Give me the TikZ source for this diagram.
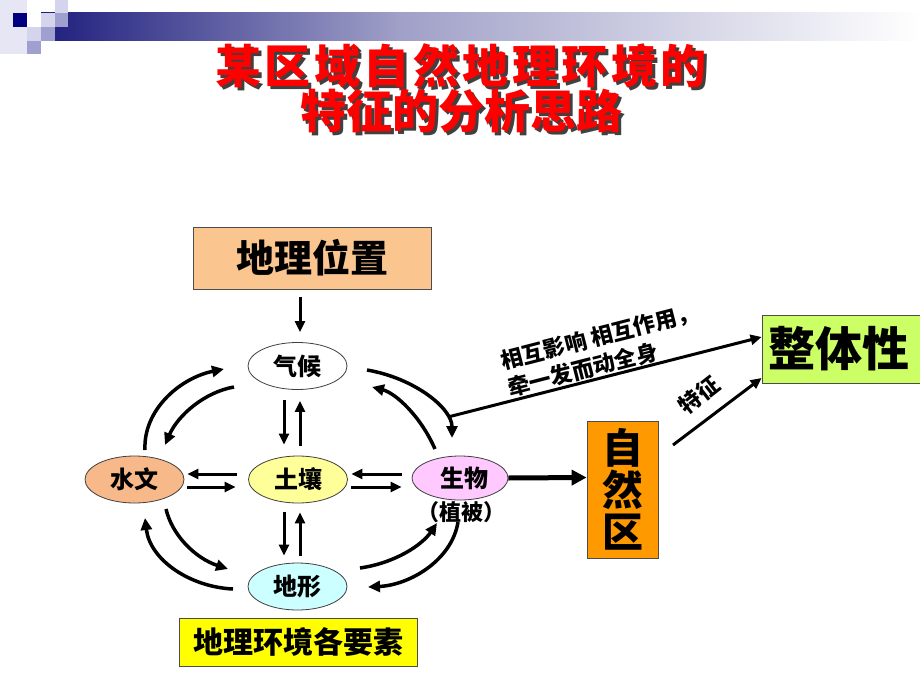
\documentclass[tikz,border=0pt]{standalone}
\usepackage{fontspec}
\setmainfont{Noto Sans CJK SC}
\usetikzlibrary{shapes.geometric,arrows.meta}
\definecolor{navyA}{HTML}{1E1E7E}
\definecolor{navyB}{HTML}{000080}
\definecolor{midbar}{HTML}{A0A0C8}
\definecolor{sqlight}{HTML}{D4D4EC}
\definecolor{sqmid}{HTML}{A0A0D0}
\definecolor{sqpale}{HTML}{E6E6F4}
\definecolor{peach}{HTML}{FAC58F}
\definecolor{waterC}{HTML}{F7B98A}
\definecolor{soilC}{HTML}{FFFF99}
\definecolor{bioC}{HTML}{FFC8FF}
\definecolor{terrC}{HTML}{CCFFFF}
\definecolor{zrqC}{HTML}{FF9900}
\definecolor{limeC}{HTML}{CCFF66}
\definecolor{yelC}{HTML}{FFFF00}
\definecolor{shadowC}{HTML}{404040}
\begin{document}
\begin{tikzpicture}[x=1pt,y=-1pt,
  ell/.style={ellipse, draw=black!75, line width=0.8pt, minimum width=99pt, minimum height=47pt, inner sep=0pt, font=\fontsize{24}{26}\selectfont\bfseries},
  boxn/.style={draw=black!70, line width=0.8pt, inner sep=0pt, font=\bfseries},
  arr/.style={line width=3pt, -{Triangle[length=11pt,width=10pt]}},
  carr/.style={line width=3.5pt, -{Triangle[length=12pt,width=11pt]}},
  lab/.style={font=\fontsize{22}{28}\selectfont\bfseries, inner sep=0pt},
  ttl/.style={font=\fontsize{46}{48}\selectfont\bfseries, inner sep=0pt}
]
\useasboundingbox (0,0) rectangle (920,690);
\fill[white] (0,0) rectangle (920,690);

% header decoration
\fill[sqpale] (0,0) rectangle (27,54);
\shade[left color=navyA, right color=midbar] (41,13) rectangle (400,41);
\shade[left color=midbar, right color=white] (399.5,13) rectangle (920,41);
\fill[navyB] (13,13) rectangle (27,27);
\fill[sqlight] (27,27) rectangle (41,41);
\fill[sqmid] (27,41) rectangle (41,54);
\fill[sqlight] (41,13) rectangle (55,27);
\fill[sqmid] (41,27) rectangle (55,41);
\fill[sqlight] (55,0) rectangle (68,13);
\fill[sqmid] (55,13) rectangle (68,27);

% title (red text with dark drop shadow)
\node[ttl, text=shadowC] (t1s) at (464,69) {\addfontfeatures{LetterSpace=7.5}某区域自然地理环境的};
\node[ttl, text=red] (t1) at (461,66) {\addfontfeatures{LetterSpace=7.5}某区域自然地理环境的};
\node[ttl, text=shadowC] (t2s) at (464,114) {特征的分析思路};
\node[ttl, text=red] (t2) at (461,111) {特征的分析思路};

% boxes
\node[boxn, fill=peach, minimum width=238pt, minimum height=62pt, font=\fontsize{38}{40}\selectfont\bfseries] (dlwz) at (312,258) {地理位置};
\node[boxn, fill=yelC, minimum width=238pt, minimum height=48pt, font=\fontsize{30}{32}\selectfont\bfseries] (ys) at (298,642) {地理环境各要素};
\node[boxn, fill=zrqC, minimum width=71pt, minimum height=137pt, align=center, font=\fontsize{41}{42}\selectfont\bfseries] (zrq) at (622.5,489.5) {自\\然\\区};
\node[boxn, fill=limeC, minimum width=162pt, minimum height=68pt, font=\fontsize{47}{49}\selectfont\bfseries] (zt) at (843,349) {\hspace*{-4pt}整体性\hspace*{4pt}};

% ellipses
\node[ell, fill=white] (qh) at (297.5,366) {气候};
\node[ell, fill=soilC] (tr) at (298,479.5) {土壤};
\node[ell, fill=waterC] (sw) at (134.5,479.5) {水文};
\node[ell, fill=bioC, minimum width=96pt, minimum height=44pt] (sb) at (460,478) {\hspace*{8pt}生物};
\node[font=\fontsize{22}{24}\selectfont\bfseries, inner sep=0pt] (zb) at (461,512) {（植被）};
\node[ell, fill=terrC] (dx) at (297.5,586.5) {地形};

% straight arrows
\draw[arr, shorten <=8pt, shorten >=10pt] ([xshift=-12pt]dlwz.south) -- ([xshift=2.5pt]qh.north);
\draw[arr, shorten <=10pt, shorten >=11pt] ([xshift=-13.5pt]qh.south) -- ([xshift=-14pt]tr.north);
\draw[arr, shorten <=10pt, shorten >=11pt] ([xshift=2pt]tr.north) -- ([xshift=2.5pt]qh.south);
\draw[arr, shorten <=9pt, shorten >=7pt] ([xshift=-14pt]tr.south) -- ([xshift=-13.5pt]dx.north);
\draw[arr, shorten <=7pt, shorten >=9pt] ([xshift=2.5pt]dx.north) -- ([xshift=2pt]tr.south);
\draw[arr, shorten <=11.5pt, shorten >=3pt] ([yshift=5.5pt]tr.west) -- ([yshift=5.5pt]sw.east);
\draw[arr, shorten <=3pt, shorten >=12.5pt] ([yshift=-7.5pt]sw.east) -- ([yshift=-7.5pt]tr.west);
\draw[arr, shorten <=10pt, shorten >=3.5pt] ([yshift=4pt]sb.west) -- ([yshift=5.5pt]tr.east);
\draw[arr, shorten <=3.5pt, shorten >=10pt] ([yshift=-7.5pt]tr.east) -- ([yshift=-9pt]sb.west);

% curved arrows
\coordinate (c1a) at (145,450); \coordinate (c1b) at (224,369);
\draw[carr] (c1a) .. controls (143,410) and (180,378) .. (c1b);
\coordinate (c2a) at (234,387); \coordinate (c2b) at (165,445);
\draw[carr] (c2a) .. controls (205,392) and (178,415) .. (c2b);
\coordinate (c3a) at (367,370); \coordinate (c3b) at (452,438);
\draw[carr] (c3a) .. controls (414,378) and (452,408) .. (c3b);
\coordinate (c4a) at (435,449); \coordinate (c4b) at (372,387);
\draw[carr] (c4a) .. controls (420,415) and (395,393) .. (c4b);
\coordinate (c5a) at (166,509); \coordinate (c5b) at (228,569);
\draw[carr] (c5a) .. controls (172,535) and (195,558) .. (c5b);
\coordinate (c6a) at (233,589); \coordinate (c6b) at (145,518);
\draw[carr] (c6a) .. controls (190,587) and (150,560) .. (c6b);
\coordinate (c7a) at (360,568); \coordinate (c7b) at (437,523);
\draw[carr] (c7a) .. controls (395,563) and (422,545) .. (c7b);
\coordinate (c8a) at (458,522); \coordinate (c8b) at (368,587);
\draw[carr] (c8a) .. controls (452,560) and (410,585) .. (c8b);

% to nature zone and wholeness
\draw[line width=5pt, -{Triangle[length=15pt,width=15pt]}] (sb.east) -- ([yshift=12pt]zrq.west);
\coordinate (la) at (448,417);
\draw[arr] (la) -- ([yshift=12pt]zt.west);
\coordinate (ta) at (673,445);
\draw[arr] (ta) -- ([yshift=-29pt]zt.west);

% labels
\node[lab, rotate=14.4, align=left] (l1) at (603,350) {相互影响 相互作用，\\牵一发而动全身};
\node[lab, rotate=38] (l2) at (699,395) {特征};
\end{tikzpicture}
\end{document}
